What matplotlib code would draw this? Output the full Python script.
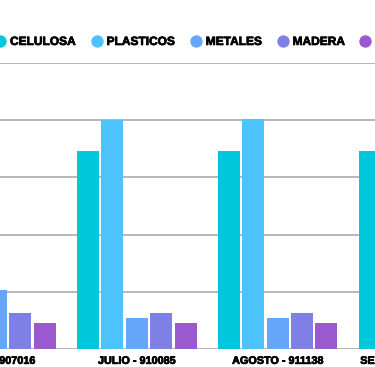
import matplotlib
matplotlib.use("Agg")
import matplotlib.pyplot as plt
from matplotlib.lines import Line2D
import matplotlib.patheffects as pe
import numpy as np

categories = ["JUNIO - 907016", "JULIO - 910085", "AGOSTO - 911138", "SEPTIEMBRE - 912204"]
series = ["CELULOSA", "PLASTICOS", "METALES", "MADERA", "VIDRIO"]
celulosa = [346000, 345900, 345900, 345900]
plasticos = [347700, 400000, 401000, 400000]
metales = [103400, 54600, 54600, 55000]
madera = [64000, 63300, 63300, 64000]
vidrio = [45900, 45900, 45900, 46000]
colors = ["#00C8DC", "#4CC3FA", "#66A6FA", "#7F80E5", "#9B59CF"]

values = [celulosa, plasticos, metales, madera, vidrio]

fig = plt.figure(figsize=(3.75, 3.67), dpi=100)
ax = fig.add_axes([0, 0.0482, 1, 0.7808])

x = np.arange(len(categories))
step = 0.1733
bw = 0.156
for i, (name, vals, c) in enumerate(zip(series, values, colors)):
    ax.bar(x + (i - 2) * step, vals, width=bw, color=c, label=name, zorder=3)

ax.set_yticks(np.arange(0, 500001, 100000))
ax.yaxis.grid(True, color="#a3a3a3", linewidth=1.1, zorder=0)
ax.set_yticklabels([])
ax.tick_params(axis="y", length=0)
for s in ax.spines.values():
    s.set_visible(False)
ax.set_xticks([])
ax.set_xlim(0.029, 2.692)
ax.set_ylim(0, 500000)

# category labels (drawn as annotations so partially visible ones remain)
for xi, lab in zip(x, categories):
    ax.annotate(lab, xy=(xi, 0), xycoords=("data", "axes fraction"),
                xytext=(0, -4.7), textcoords="offset points",
                ha="center", va="top", annotation_clip=False,
                fontfamily="Liberation Sans", fontweight="bold", fontsize=7.8,
                color="black",
                path_effects=[pe.withStroke(linewidth=0.5, foreground="black")])

handles = [Line2D([], [], marker="o", linestyle="none", markersize=7.9,
                  markerfacecolor=c, markeredgecolor=c) for c in colors]
leg = fig.legend(handles, series, loc="center left", bbox_to_anchor=(-0.016, 0.8856),
                 ncol=5, frameon=False, borderpad=0, borderaxespad=0,
                 handlelength=1.0, handletextpad=0.34, columnspacing=1.26,
                 prop={"family": "Liberation Sans", "weight": "bold", "size": 8.6})
for t in leg.get_texts():
    t.set_path_effects([pe.withStroke(linewidth=0.5, foreground="black")])

fig.savefig("out.png", dpi=100)
